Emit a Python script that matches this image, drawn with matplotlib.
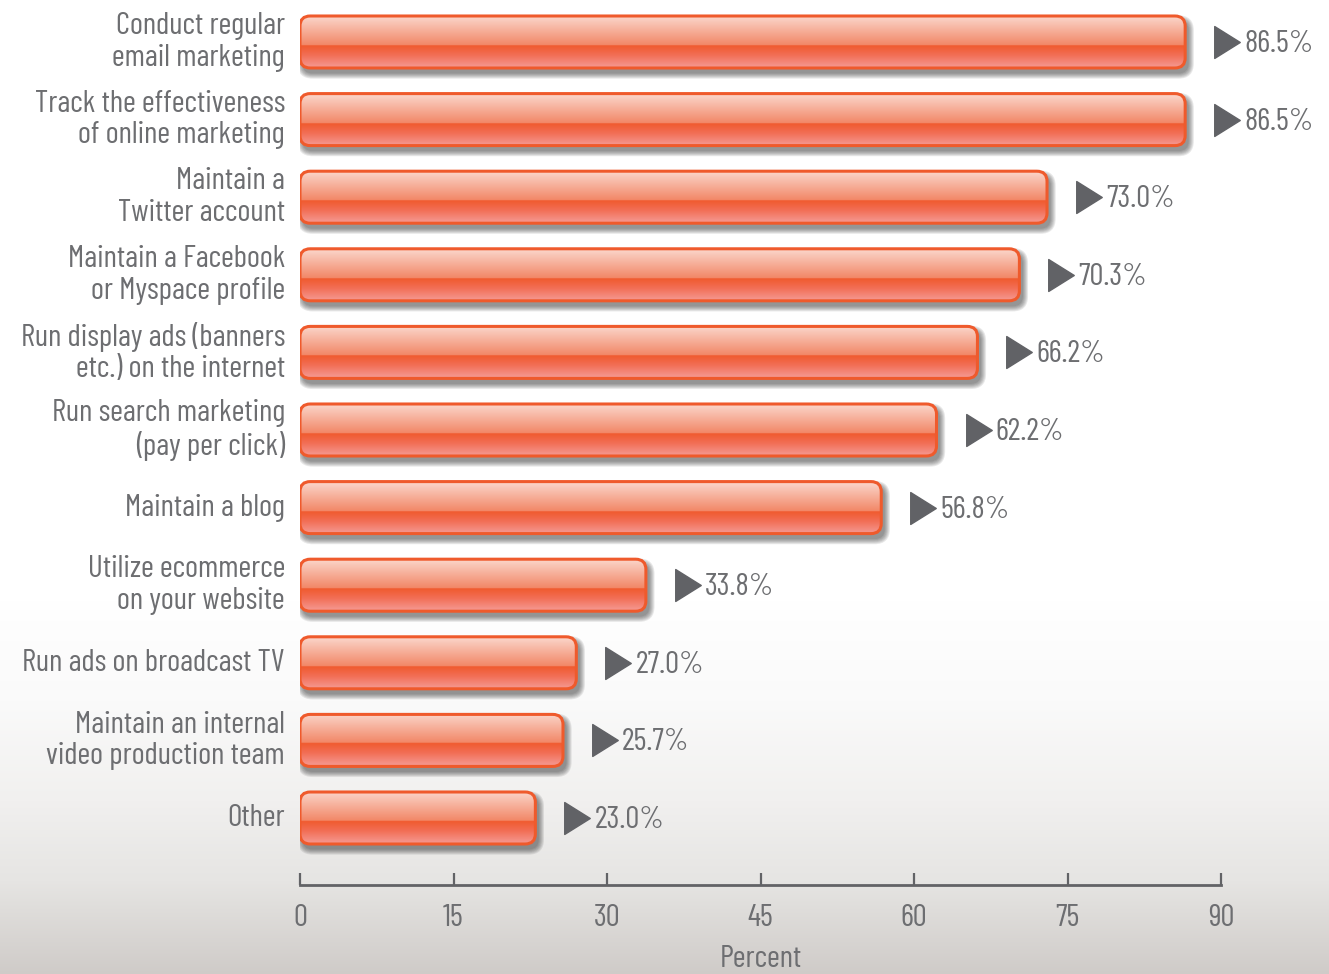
import numpy as np
import matplotlib
matplotlib.use("Agg")
import matplotlib.pyplot as plt
from matplotlib.patches import FancyBboxPatch
from matplotlib.colors import to_rgb
from matplotlib.path import Path
import matplotlib.transforms as mtransforms

plt.rcParams["font.family"] = ["Barlow Condensed", "Roboto Condensed", "DejaVu Sans"]

categories = [
    "Conduct regular\nemail marketing",
    "Track the effectiveness\nof online marketing",
    "Maintain a\nTwitter account",
    "Maintain a Facebook\nor Myspace profile",
    "Run display ads (banners\netc.) on the internet",
    "Run search marketing\n(pay per click)",
    "Maintain a blog",
    "Utilize ecommerce\non your website",
    "Run ads on broadcast TV",
    "Maintain an internal\nvideo production team",
    "Other",
]
values = [86.5, 86.5, 73.0, 70.3, 66.2, 62.2, 56.8, 33.8, 27.0, 25.7, 23.0]
xticks = [0, 15, 30, 45, 60, 75, 90]

TEXT = "#6d6e71"
AXIS = "#626366"
EDGE = "#ef5a2c"
FS = 22.5

W, H, DPI = 1329, 974, 100
fig = plt.figure(figsize=(W / DPI, H / DPI), dpi=DPI)

# page background: white fading to warm gray at the bottom
bg = fig.add_axes([0, 0, 1, 1], zorder=-10)
bg.axis("off")
stops_y = [0, 600, 700, 800, 880, 974]
stops_c = ["#ffffff", "#ffffff", "#fafafa", "#f1f0ef", "#e6e5e3", "#cfcbc8"]
ys = np.arange(H)
cols = np.array([to_rgb(c) for c in stops_c])
grad = np.stack([np.interp(ys, stops_y, cols[:, k]) for k in range(3)], axis=1)
bg.imshow(grad[:, None, :], aspect="auto", extent=(0, 1, 0, 1), origin="upper")

# plot area: x 0..90 maps to px 300..1221, bottom spine at px 885
x0_px, x1_px, spine_px = 300, 1221, 885
pitch_px, first_px = 77.6, 42
ax = fig.add_axes([x0_px / W, 1 - spine_px / H, (x1_px - x0_px) / W, spine_px / H])
ax.patch.set_alpha(0)
ax.set_xlim(0, 90)
ax.set_ylim((spine_px - first_px) / pitch_px, -first_px / pitch_px)

xpx = (x1_px - x0_px) / 90.0
aspect = xpx / pitch_px
bar_h = 52 / pitch_px
rnd = 1.0

# vertical glossy gradient for the bars (top -> bottom)
g_pos = [0.0, 0.10, 0.56, 0.565, 0.75, 1.0]
g_col = ["#fcd8cd", "#f9c8b9", "#f28767", "#f05a2e", "#f26e55", "#f59b95"]
gc = np.array([to_rgb(c) for c in g_col])
t = np.linspace(0, 1, 200)
bar_grad = np.stack([np.interp(t, g_pos, gc[:, k]) for k in range(3)], axis=1)[:, None, :]

ypos = np.arange(len(categories))
for i, (y, v) in enumerate(zip(ypos, values)):
    top = y - bar_h / 2
    # soft drop shadow
    off = mtransforms.ScaledTranslation(3 / DPI, -5 / DPI, fig.dpi_scale_trans)
    for k in range(6):
        sh = FancyBboxPatch((0, top), v, bar_h,
                            boxstyle=f"round,pad={0.05 + k * 0.1},rounding_size={rnd + k * 0.1}",
                            mutation_aspect=aspect, facecolor="#303030", edgecolor="none",
                            alpha=0.11, transform=ax.transData + off, zorder=2)
        ax.add_patch(sh)
    patch = FancyBboxPatch((0, top), v, bar_h,
                           boxstyle=f"round,pad=0,rounding_size={rnd}",
                           mutation_aspect=aspect, facecolor="none", edgecolor=EDGE,
                           linewidth=2.2, zorder=4)
    ax.add_patch(patch)
    im = ax.imshow(bar_grad, aspect="auto", extent=(0, v, y + bar_h / 2, top),
                   origin="upper", zorder=3, interpolation="bilinear")
    im.set_clip_path(patch)

# value markers and labels
tri = Path([(-0.8, -1), (0.8, 0), (-0.8, 1), (-0.8, -1)],
           [Path.MOVETO, Path.LINETO, Path.LINETO, Path.CLOSEPOLY])
for y, v in zip(ypos, values):
    tr = mtransforms.offset_copy(ax.transData, fig=fig, x=42, y=0, units="dots")
    ax.plot([v], [y], marker=tri, markersize=23, color="#616266", transform=tr,
            clip_on=False, zorder=5)
    tr2 = mtransforms.offset_copy(ax.transData, fig=fig, x=59, y=-2, units="dots")
    ax.text(v, y, f"{v:.1f}%", transform=tr2, ha="left", va="center",
            fontsize=FS, color=TEXT, clip_on=False)

# category labels
for y, c in zip(ypos, categories):
    tr = mtransforms.offset_copy(ax.transData, fig=fig, x=-15, y=0, units="dots")
    ax.text(0, y, c, transform=tr, ha="right", va="center", fontsize=FS,
            color=TEXT, linespacing=1.17, clip_on=False)

ax.set_yticks([])
for s in ["top", "right", "left"]:
    ax.spines[s].set_visible(False)
ax.spines["bottom"].set_color(AXIS)
ax.spines["bottom"].set_linewidth(2)
ax.set_xticks(xticks)
ax.set_xticklabels([str(x) for x in xticks])
ax.tick_params(axis="x", direction="in", length=9, width=1.6, color=AXIS,
               labelsize=FS, labelcolor=TEXT, pad=14)
ax.set_xlabel("Percent", fontsize=FS, color=TEXT, labelpad=9)

fig.savefig("out.png", dpi=DPI, facecolor="white")
